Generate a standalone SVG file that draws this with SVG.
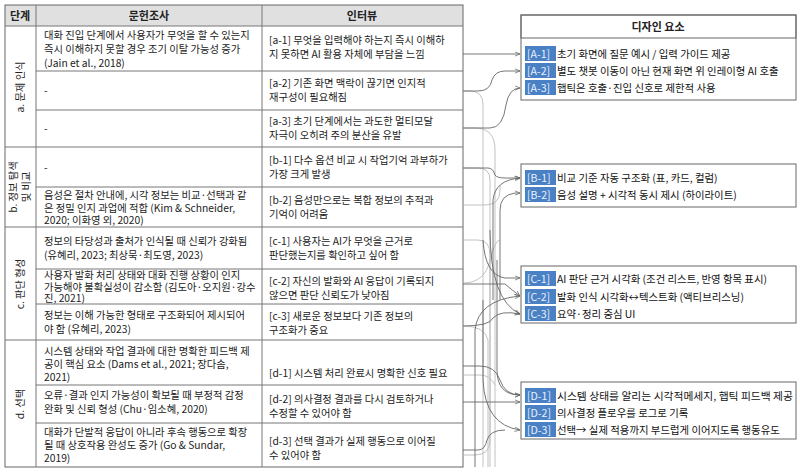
<svg xmlns="http://www.w3.org/2000/svg" width="800" height="474" viewBox="0 0 800 474">
<style>
text{font-family:"Noto Sans CJK KR","Noto Sans",sans-serif;font-size:10.3px;fill:#222}
.h{font-weight:bold;font-size:11px;text-anchor:middle}
.g{stroke:#666;stroke-width:1;fill:none}
.tl{stroke:#777;stroke-width:1}
.c{stroke:#666;stroke-width:0.9;fill:none}
.cl{stroke:#bbb;stroke-width:0.9;fill:none}
.tag{fill:#4a80c4}
.tt{fill:#e8f0ff;font-size:10.6px}
.d{font-size:10.4px;fill:#111}
</style>
<defs><marker id="ar" viewBox="0 0 6 6" refX="6" refY="3" markerWidth="6" markerHeight="6" orient="auto"><path d="M0,0.5 L6,3 L0,5.5" fill="none" stroke="#666" stroke-width="0.8"/></marker></defs>
<g id="table">
<rect x="5" y="5" width="458" height="21" fill="#e0e0e0"/>
<rect x="5" y="5" width="458" height="462" class="g"/>
<line x1="36" y1="5" x2="36" y2="467" class="tl"/>
<line x1="262" y1="5" x2="262" y2="467" class="tl"/>
<line x1="5" y1="26" x2="463" y2="26" class="tl"/>
<line x1="36" y1="71" x2="463" y2="71" class="tl"/>
<line x1="36" y1="110" x2="463" y2="110" class="tl"/>
<line x1="5" y1="147" x2="463" y2="147" class="tl"/>
<line x1="36" y1="187" x2="463" y2="187" class="tl"/>
<line x1="5" y1="227" x2="463" y2="227" class="tl"/>
<line x1="36" y1="269" x2="463" y2="269" class="tl"/>
<line x1="36" y1="304" x2="463" y2="304" class="tl"/>
<line x1="5" y1="340" x2="463" y2="340" class="tl"/>
<line x1="36" y1="385" x2="463" y2="385" class="tl"/>
<line x1="36" y1="423" x2="463" y2="423" class="tl"/>
<text class="h" x="20" y="20">단계</text>
<text class="h" x="149" y="20">문헌조사</text>
<text class="h" x="362" y="20">인터뷰</text>
<text transform="translate(24,87) rotate(-90)" text-anchor="middle">a. 문제 인식</text>
<text transform="translate(17,187) rotate(-90)" text-anchor="middle">b. 정보 탐색</text>
<text transform="translate(30,187) rotate(-90)" text-anchor="middle">및 비교</text>
<text transform="translate(24,284) rotate(-90)" text-anchor="middle">c. 판단 형성</text>
<text transform="translate(24,404) rotate(-90)" text-anchor="middle">d. 선택</text>
<text x="44" y="39">대화 진입 단계에서 사용자가 무엇을 할 수 있는지</text>
<text x="44" y="53">즉시 이해하지 못할 경우 조기 이탈 가능성 증가</text>
<text x="44" y="67">(Jain et al., 2018)</text>
<text x="44" y="94">-</text>
<text x="44" y="132">-</text>
<text x="44" y="171">-</text>
<text x="44" y="199">음성은 절차 안내에, 시각 정보는 비교·선택과 같</text>
<text x="44" y="211.5">은 정밀 인지 과업에 적합 (Kim &amp; Schneider,</text>
<text x="44" y="224">2020; 이화영 외, 2020)</text>
<text x="44" y="245">정보의 타당성과 출처가 인식될 때 신뢰가 강화됨</text>
<text x="44" y="259">(유혜리, 2023; 최상묵·최도영, 2023)</text>
<text x="44" y="279">사용자 발화 처리 상태와 대화 진행 상황이 인지</text>
<text x="44" y="290.5">가능해야 불확실성이 감소함 (김도아·오지원·강수</text>
<text x="44" y="302">진, 2021)</text>
<text x="44" y="319">정보는 이해 가능한 형태로 구조화되어 제시되어</text>
<text x="44" y="333">야 함 (유혜리, 2023)</text>
<text x="44" y="355">시스템 상태와 작업 결과에 대한 명확한 피드백 제</text>
<text x="44" y="368">공이 핵심 요소 (Dams et al., 2021; 장다솜,</text>
<text x="44" y="381">2021)</text>
<text x="44" y="399">오류·결과 인지 가능성이 확보될 때 부정적 감정</text>
<text x="44" y="413">완화 및 신뢰 형성 (Chu·임소혜, 2020)</text>
<text x="44" y="436">대화가 단발적 응답이 아니라 후속 행동으로 확장</text>
<text x="44" y="449">될 때 상호작용 완성도 증가 (Go &amp; Sundar,</text>
<text x="44" y="462">2019)</text>
<text x="269" y="44">[a-1] 무엇을 입력해야 하는지 즉시 이해하</text>
<text x="269" y="58">지 못하면 AI 활용 자체에 부담을 느낌</text>
<text x="269" y="87">[a-2] 기존 화면 맥락이 끊기면 인지적</text>
<text x="269" y="101">재구성이 필요해짐</text>
<text x="269" y="125">[a-3] 초기 단계에서는 과도한 멀티모달</text>
<text x="269" y="139">자극이 오히려 주의 분산을 유발</text>
<text x="269" y="164">[b-1] 다수 옵션 비교 시 작업기억 과부하가</text>
<text x="269" y="178">가장 크게 발생</text>
<text x="269" y="204">[b-2] 음성만으로는 복합 정보의 추적과</text>
<text x="269" y="218">기억이 어려움</text>
<text x="269" y="245">[c-1] 사용자는 AI가 무엇을 근거로</text>
<text x="269" y="259">판단했는지를 확인하고 싶어 함</text>
<text x="269" y="285">[c-2] 자신의 발화와 AI 응답이 기록되지</text>
<text x="269" y="299">않으면 판단 신뢰도가 낮아짐</text>
<text x="269" y="320">[c-3] 새로운 정보보다 기존 정보의</text>
<text x="269" y="334">구조화가 중요</text>
<text x="269" y="377">[d-1] 시스템 처리 완료시 명확한 신호 필요</text>
<text x="269" y="403">[d-2] 의사결정 결과를 다시 검토하거나</text>
<text x="269" y="417">수정할 수 있어야 함</text>
<text x="269" y="445">[d-3] 선택 결과가 실제 행동으로 이어질</text>
<text x="269" y="459">수 있어야 함</text>
</g>
<g id="connectors">
<path class="cl" d="M463,91 H470 Q483,91 483,105 V467"/>
<path class="cl" d="M463,128 H475 Q495,128 495,150 V467"/>
<path class="cl" d="M463,168 H478 Q490,168 490,180 V467"/>
<path class="cl" d="M463,205 H485 Q500,205 500,190 V185"/>
<path class="cl" d="M463,240 H478 Q490,240 490,255"/>
<path class="cl" d="M463,283 Q485,283 490,260 Q495,240 500,240"/>
<path class="cl" d="M463,326 Q485,326 488,340 V467"/>
<path class="cl" d="M463,375 H480 Q490,375 495,385"/>
<path class="cl" d="M463,455 H475 Q490,455 490,440 V250"/>
<path class="c" d="M463,54 H520" marker-end="url(#ar)"/>
<path class="c" d="M463,91 H478 Q490,91 492,80 Q495,71 505,71 H520" marker-end="url(#ar)"/>
<path class="c" d="M463,128 H490 Q503,128 506,105 Q509,88 520,88" marker-end="url(#ar)"/>
<path class="c" d="M463,168 H488 Q493,168 495,175 Q497,178 505,178 H520" marker-end="url(#ar)"/>
<path class="c" d="M500,300 V210 Q500,195 515,193 H520" marker-end="url(#ar)"/>
<path class="c" d="M493,300 V200 Q495,180 520,178" marker-end="url(#ar)"/>
<path class="c" d="M483,240 Q485,275 505,278 H520" marker-end="url(#ar)"/>
<path class="c" d="M463,284 H505 Q512,290 520,296" marker-end="url(#ar)"/>
<path class="c" d="M475,467 V330 Q478,300 520,296" marker-end="url(#ar)"/>
<path class="c" d="M463,326 Q490,326 493,318 Q500,310 520,314" marker-end="url(#ar)"/>
<path class="c" d="M490,230 Q490,300 520,314" marker-end="url(#ar)"/>
<path class="c" d="M497,260 V370 Q497,395 520,395" marker-end="url(#ar)"/>
<path class="c" d="M463,402 H520" marker-end="url(#ar)"/>
<path class="c" d="M483,300 V380 Q485,425 520,430" marker-end="url(#ar)"/>
<path class="c" d="M463,450 H478 Q485,450 487,440 Q490,430 505,430" />
<path class="c" d="M463,366 H480 Q495,366 500,380 Q505,395 520,395" marker-end="url(#ar)"/>
</g>
<g id="A">
<rect x="521" y="15" width="275" height="85" fill="#fff" class="g"/>
<rect x="521" y="15" width="275" height="23" fill="#d9d9d9" class="g"/>
<text class="h" x="658" y="31">디자인 요소</text>
<rect class="tag" x="525" y="46" width="31" height="15"/><text class="tt" x="527" y="58">[A-1]</text><text class="d" x="557" y="58">초기 화면에 질문 예시 / 입력 가이드 제공</text>
<rect class="tag" x="525" y="63" width="31" height="15"/><text class="tt" x="527" y="75">[A-2]</text><text class="d" x="557" y="75">별도 챗봇 이동이 아닌 현재 화면 위 인레이형 AI 호출</text>
<rect class="tag" x="525" y="80" width="31" height="15"/><text class="tt" x="527" y="92">[A-3]</text><text class="d" x="557" y="92">햅틱은 호출·진입 신호로 제한적 사용</text>
</g>
<g id="B">
<rect x="521" y="164" width="275" height="43" fill="#fff" class="g"/>
<rect class="tag" x="525" y="170" width="31" height="15"/><text class="tt" x="527" y="182">[B-1]</text><text class="d" x="557" y="182">비교 기준 자동 구조화 (표, 카드, 컬럼)</text>
<rect class="tag" x="525" y="187" width="31" height="15"/><text class="tt" x="527" y="199">[B-2]</text><text class="d" x="557" y="199">음성 설명 + 시각적 동시 제시 (하이라이트)</text>
</g>
<g id="C">
<rect x="521" y="266" width="275" height="57" fill="#fff" class="g"/>
<rect class="tag" x="525" y="271" width="31" height="15"/><text class="tt" x="527" y="283">[C-1]</text><text class="d" x="557" y="283">AI 판단 근거 시각화 (조건 리스트, 반영 항목 표시)</text>
<rect class="tag" x="525" y="289" width="31" height="15"/><text class="tt" x="527" y="301">[C-2]</text><text class="d" x="557" y="301">발화 인식 시각화↔텍스트화 (액티브리스닝)</text>
<rect class="tag" x="525" y="306" width="31" height="15"/><text class="tt" x="527" y="318">[C-3]</text><text class="d" x="557" y="318">요약·정리 중심 UI</text>
</g>
<g id="D">
<rect x="521" y="382" width="275" height="57" fill="#fff" class="g"/>
<rect class="tag" x="525" y="388" width="31" height="15"/><text class="tt" x="527" y="400">[D-1]</text><text class="d" x="557" y="400" textLength="236" lengthAdjust="spacingAndGlyphs">시스템 상태를 알리는 시각적메세지, 햅틱 피드백 제공</text>
<rect class="tag" x="525" y="405" width="31" height="15"/><text class="tt" x="527" y="417">[D-2]</text><text class="d" x="557" y="417">의사결정 플로우를 로그로 기록</text>
<rect class="tag" x="525" y="422" width="31" height="15"/><text class="tt" x="527" y="434">[D-3]</text><text class="d" x="557" y="434">선택→ 실제 적용까지 부드럽게 이어지도록 행동유도</text>
</g>
</svg>
